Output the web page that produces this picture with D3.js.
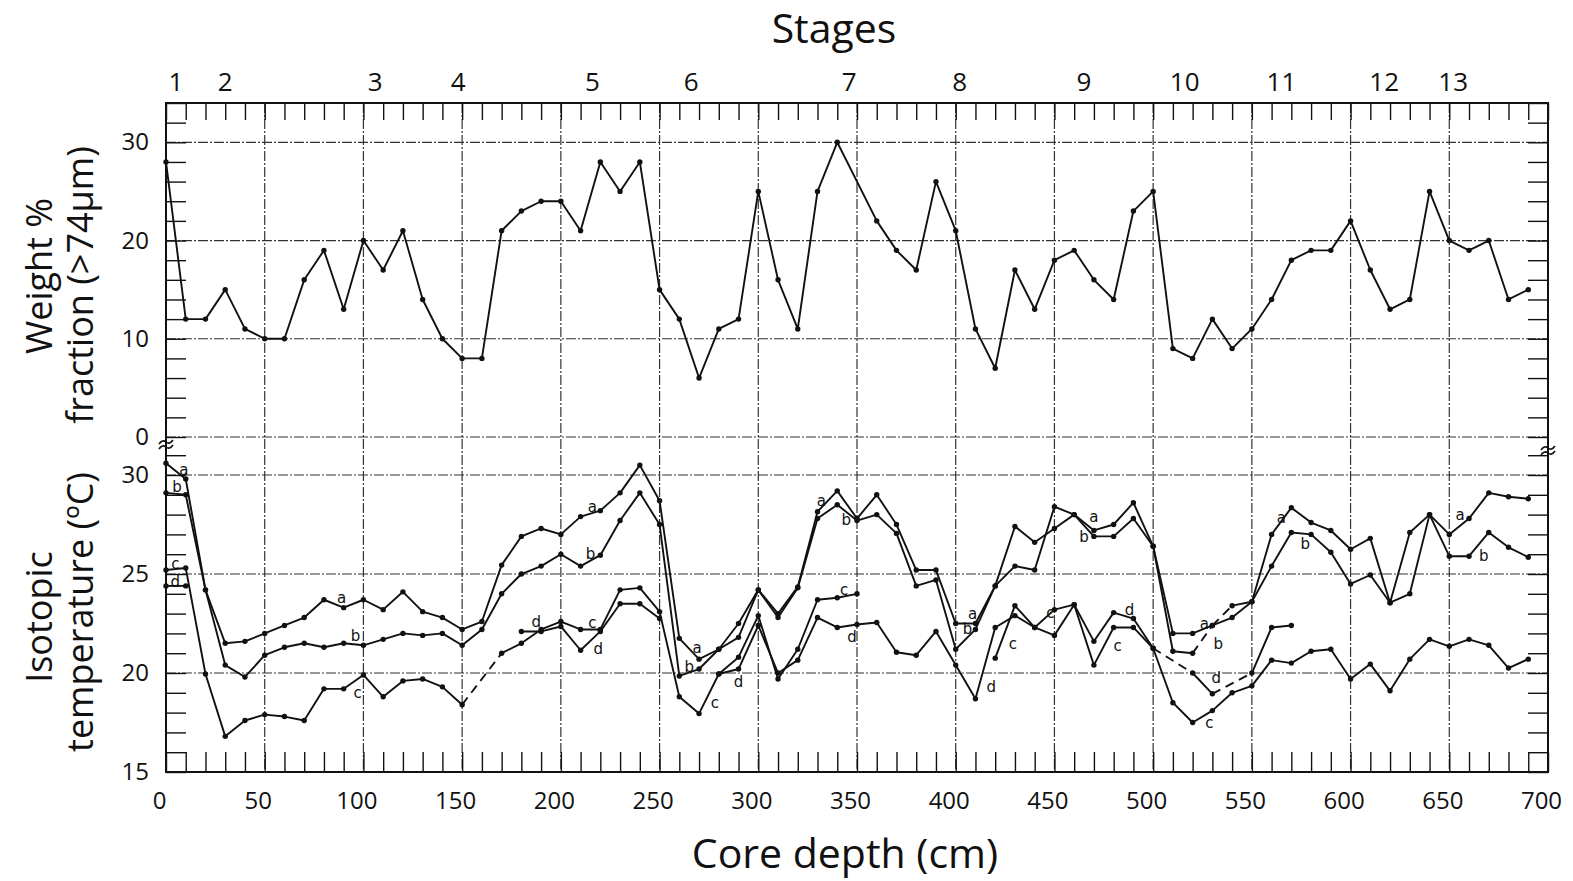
<!DOCTYPE html>
<html>
<head>
<meta charset="utf-8">
<script src="https://cdn.jsdelivr.net/npm/d3@7"></script>
<style>
body{margin:0;background:#fff;}
svg{display:block;font-family:"Open Sans",sans-serif;}
</style>
</head>
<body>
<svg id="chart" width="1573" height="881"></svg>
<script>
// weight % of the >74um fraction, read every 10 cm (no reading at 350)
const weightPct = [[0,28],[10,12],[20,12],[30,15],[40,11],[50,10],[60,10],[70,16],[80,19],[90,13],[100,20],[110,17],[120,21],[130,14],[140,10],[150,8],[160,8],[170,21],[180,23],[190,24],[200,24],[210,21],[220,28],[230,25],[240,28],[250,15],[260,12],[270,6],[280,11],[290,12],[300,25],[310,16],[320,11],[330,25],[340,30],[360,22],[370,19],[380,17],[390,26],[400,21],[410,11],[420,7],[430,17],[440,13],[450,18],[460,19],[470,16],[480,14],[490,23],[500,25],[510,9],[520,8],[530,12],[540,9],[550,11],[560,14],[570,18],[580,19],[590,19],[600,22],[610,17],[620,13],[630,14],[640,25],[650,20],[660,19],[670,20],[680,14],[690,15]]

// isotopic temperature curves a-d (null = gap)
const isoA = [[0,30.6],[10,29.8],[20,24.2],[30,21.5],[40,21.6],[50,22.0],[60,22.4],[70,22.8],[80,23.7],[90,23.3],[100,23.7],[110,23.2],[120,24.1],[130,23.1],[140,22.8],[150,22.2],[160,22.6],[170,25.45],[180,26.9],[190,27.3],[200,27.0],[210,27.9],[220,28.2],[230,29.1],[240,30.5],[250,28.7],[260,21.75],[270,20.7],[280,21.2],[290,22.5],[300,24.2],[310,23.0],[320,24.35],[330,28.15],[340,29.2],[350,27.8],[360,29.0],[370,27.5],[380,25.2],[390,25.2],[400,22.5],[410,22.5],[420,24.4],[430,27.4],[440,26.6],[450,27.3],[460,28.0],[470,27.2],[480,27.5],[490,28.6],[500,26.4],[510,22.0],[520,22.0],[530,22.4],[540,23.4],[550,23.6],[560,27.0],[570,28.35],[580,27.6],[590,27.2],[600,26.25],[610,26.8],[620,23.55],[630,27.1],[640,28.0],[650,27.0],[660,27.8],[670,29.1],[680,28.9],[690,28.8]]
const isoB = [[0,29.1],[10,29.0],[20,24.2],[30,20.4],[40,19.8],[50,20.9],[60,21.3],[70,21.5],[80,21.3],[90,21.5],[100,21.4],[110,21.7],[120,22.0],[130,21.9],[140,22.0],[150,21.4],[160,22.2],[170,24.0],[180,25.0],[190,25.4],[200,26.0],[210,25.4],[220,25.95],[230,27.7],[240,29.1],[250,27.5],[260,19.85],[270,20.2],[280,21.2],[290,21.8],[300,24.2],[310,22.8],[320,24.3],[330,27.8],[340,28.5],[350,27.7],[360,28.0],[370,27.05],[380,24.4],[390,24.7],[400,21.2],[410,22.2],[420,24.4],[430,25.4],[440,25.2],[450,28.4],[460,28.0],[470,26.9],[480,26.9],[490,27.8],[500,26.4],[510,21.1],[520,21.0],[530,22.4],[540,22.8],[550,23.6],[560,25.4],[570,27.1],[580,27.0],[590,26.1],[600,24.5],[610,24.95],[620,23.55],[630,24.0],[640,28.0],[650,25.9],[660,25.9],[670,27.1],[680,26.35],[690,25.85]]
const isoC = [[0,25.2],[10,25.3],[20,19.95],[30,16.8],[40,17.6],[50,17.9],[60,17.8],[70,17.6],[80,19.2],[90,19.2],[100,19.9],[110,18.8],[120,19.6],[130,19.7],[140,19.3],[150,18.4],[170,21.0],[180,21.5],[190,22.2],[200,22.6],[210,22.2],[220,22.2],[230,24.2],[240,24.3],[250,23.1],[260,18.8],[270,17.95],[280,19.95],[290,20.8],[300,22.9],[310,19.7],[320,21.2],[330,23.7],[340,23.8],[350,24.0],null,[420,20.75],[430,23.4],[440,22.3],[450,23.2],[460,23.45],[470,20.4],[480,22.3],[490,22.3],[500,21.25],[510,18.5],[520,17.5],[530,18.1],[540,19.0],[550,19.35],[560,20.65],[570,20.5],[580,21.1],[590,21.2],[600,19.7],[610,20.45],[620,19.1],[630,20.7],[640,21.7],[650,21.35],[660,21.7],[670,21.4],[680,20.25],[690,20.7]]
const isoD = [[0,24.4],[10,24.4],null,[180,22.1],[190,22.1],[200,22.35],[210,21.15],[220,22.1],[230,23.5],[240,23.5],[250,22.75],null,[280,19.95],[290,20.2],[300,22.4],[310,20.0],[320,20.65],[330,22.8],[340,22.3],[350,22.45],[360,22.55],[370,21.05],[380,20.9],[390,22.1],[400,20.4],[410,18.7],[420,22.3],[430,22.9],[440,22.3],[450,21.9],[460,23.45],[470,21.6],[480,23.05],[490,22.75],[500,21.25],[520,20.0],[530,18.95],[550,20.0],[560,22.3],[570,22.4]]

// segments drawn dashed: [curve, from depth, to depth]
const dashedJoins = [["c",150,170],["a",530,540],["b",520,530],["d",500,520],["d",530,550]]

const depthTicks = [0,50,100,150,200,250,300,350,400,450,500,550,600,650,700]
const weightTicks = [0,10,20,30]
const tempTicks = [15,20,25,30]
const stageNames = ["1","2","3","4","5","6","7","8","9","10","11","12","13"]
const stageDepths = [5,30,106,148,216,266,346,402,465,516,565,617,652]

// little letters that tag the curves
const curveTags = [["a",9,30.25],["b",5.6,29.4],["c",4.7,25.5],["d",4.7,24.6],
  ["a",89,23.8],["b",96,21.9],["c",97,19.0],["d",187.5,22.6],
  ["a",216,28.4],["b",215,26.0],["c",216,22.55],["d",219,21.25],
  ["a",269,21.3],["b",265,20.3],["c",278,18.5],["d",290,19.55],
  ["a",332,28.7],["b",344.5,27.75],["c",343.5,24.2],["d",347.5,21.85],
  ["a",408.5,23.0],["b",406,22.25],["d",418,19.3],["c",429,21.5],["c",448,23.05],
  ["a",470,27.9],["b",465,26.9],["c",482,21.4],["d",488,23.2],
  ["a",526,22.5],["b",533,21.5],["d",532,19.75],["c",528.5,17.5],
  ["a",565,27.85],["b",577,26.55],["a",655.5,28.0],["b",667.5,25.9]]

const svg = d3.select('#chart')
const pLeft = 166, pRight = 1548, pTop = 103, pBottom = 772, pMid = 437

const x = d3.scaleLinear().domain([0,700]).range([pLeft,pRight])
const yW = d3.scaleLinear().domain([0,34]).range([pMid,pTop])
const yT = d3.scaleLinear().domain([15,31.92]).range([pBottom,pMid])

// grid
const grid = svg.append('g')
    .attr('stroke','#333')
    .attr('stroke-width',1.2)
    .attr('stroke-dasharray','10,2,2,2')
grid.selectAll('.gv').data(depthTicks.slice(1,-1)).join('line')
    .attr('x1',d=>x(d)).attr('x2',d=>x(d)).attr('y1',pTop).attr('y2',pBottom)
grid.selectAll('.gw').data(weightTicks).join('line')
    .attr('x1',pLeft).attr('x2',pRight).attr('y1',d=>yW(d)).attr('y2',d=>yW(d))
grid.selectAll('.gt').data(tempTicks.slice(1)).join('line')
    .attr('x1',pLeft).attr('x2',pRight).attr('y1',d=>yT(d)).attr('y2',d=>yT(d))

// inward minor ticks
const tickStyle = g => {
    g.select('.domain').remove()
    g.selectAll('line').attr('stroke','#111').attr('stroke-width',1.4)
}
svg.append('g').attr('transform',`translate(0,${pTop})`)
    .call(d3.axisBottom(x).tickValues(d3.range(0,701,10)).tickSize(17).tickFormat(''))
    .call(tickStyle)
svg.append('g').attr('transform',`translate(0,${pBottom})`)
    .call(d3.axisTop(x).tickValues(d3.range(0,701,10)).tickSize(20).tickFormat(''))
    .call(tickStyle)
svg.append('g').attr('transform',`translate(${pLeft},0)`)
    .call(d3.axisRight(yW).tickValues(d3.range(0,35,2)).tickSize(20).tickFormat(''))
    .call(tickStyle)
svg.append('g').attr('transform',`translate(${pRight},0)`)
    .call(d3.axisLeft(yW).tickValues(d3.range(0,35,2)).tickSize(20).tickFormat(''))
    .call(tickStyle)
svg.append('g').attr('transform',`translate(${pLeft},0)`)
    .call(d3.axisRight(yT).tickValues(d3.range(15,32,1)).tickSize(20).tickFormat(''))
    .call(tickStyle)
svg.append('g').attr('transform',`translate(${pRight},0)`)
    .call(d3.axisLeft(yT).tickValues(d3.range(15,32,1)).tickSize(20).tickFormat(''))
    .call(tickStyle)

// frame
svg.append('rect').attr('x',pLeft).attr('y',pTop).attr('width',pRight-pLeft).attr('height',pBottom-pTop)
    .attr('fill','none').attr('stroke','#111').attr('stroke-width',2)

// break marks on the y axes
const brk = (cx, cy) => `M${cx-7},${cy+2} q3.5,-5 7,-2 t7,-2`
;[[pLeft,pMid+5],[pLeft,pMid+10],[pRight,pMid+11],[pRight,pMid+16]].forEach(p=>{
    svg.append('path').attr('d',brk(p[0],p[1])).attr('fill','none').attr('stroke','#111').attr('stroke-width',1.6)
})

// tick labels
const labelStyle = g => {
    g.select('.domain').remove()
    g.selectAll('text').attr('font-size',24).attr('fill','#111').attr('font-family','"Open Sans",sans-serif')
}
svg.append('g').attr('transform',`translate(${pLeft},0)`)
    .call(d3.axisLeft(yW).tickValues(weightTicks).tickSize(0).tickPadding(17))
    .call(labelStyle)
svg.append('g').attr('transform',`translate(${pLeft},0)`)
    .call(d3.axisLeft(yT).tickValues(tempTicks).tickSize(0).tickPadding(17))
    .call(labelStyle)
svg.append('g').attr('transform',`translate(0,${pBottom})`)
    .call(d3.axisBottom(x).tickValues(depthTicks).tickSize(0).tickPadding(20))
    .call(labelStyle)
    .call(g=>g.selectAll('text').attr('dx',-7))

// stages
svg.append('g').selectAll('text').data(stageNames).join('text')
    .attr('x',(d,i)=>x(stageDepths[i])).attr('y',91)
    .attr('text-anchor','middle').attr('font-size',26).attr('fill','#111')
    .text(d=>d)
svg.append('text').attr('x',834).attr('y',43).attr('text-anchor','middle')
    .attr('font-size',41).attr('fill','#111').text('Stages')
svg.append('text').attr('x',845).attr('y',868).attr('text-anchor','middle')
    .attr('font-size',41).attr('fill','#111').text('Core depth (cm)')

const ylab = (txt, bx, cy) => svg.append('text')
    .attr('transform',`translate(${bx},${cy}) rotate(-90)`)
    .attr('text-anchor','middle').attr('font-size',36).attr('fill','#111').text(txt)
ylab('Weight %',52,276)
ylab('fraction (>74μm)',93,285)
ylab('Isotopic',52,617)
ylab('temperature (ºC)',93,612)

// data
const line = d3.line().x(d=>x(d[0]))
const isDashed = (k,a,b) => dashedJoins.some(j=>j[0]===k && j[1]===a && j[2]===b)

function splitRuns(k, data){
    const runs = [], dashes = []
    let cur = []
    data.forEach((p,i)=>{
        const prev = data[i-1]
        if(!p){ if(cur.length) runs.push(cur); cur = []; return }
        if(prev && isDashed(k,prev[0],p[0])){ runs.push(cur); dashes.push([prev,p]); cur = [] }
        cur.push(p)
    })
    if(cur.length) runs.push(cur)
    return {runs, dashes}
}

function drawCurve(k, data, yScale){
    const g = svg.append('g')
    const lf = line.y(d=>yScale(d[1]))
    const parts = splitRuns(k, data)
    g.selectAll('.run').data(parts.runs).join('path')
        .attr('d',d=>lf(d)).attr('fill','none').attr('stroke','#111').attr('stroke-width',1.9)
        .attr('stroke-linejoin','round')
    g.selectAll('.dash').data(parts.dashes).join('path')
        .attr('d',d=>lf(d)).attr('fill','none').attr('stroke','#111').attr('stroke-width',1.9)
        .attr('stroke-dasharray','9,6')
    g.selectAll('circle').data(data.filter(p=>p)).join('circle')
        .attr('cx',d=>x(d[0])).attr('cy',d=>yScale(d[1])).attr('r',2.7).attr('fill','#111')
}

drawCurve('w', weightPct, yW)
drawCurve('a', isoA, yT)
drawCurve('b', isoB, yT)
drawCurve('c', isoC, yT)
drawCurve('d', isoD, yT)

svg.append('g').selectAll('text').data(curveTags).join('text')
    .attr('x',d=>x(d[1])).attr('y',d=>yT(d[2]))
    .attr('dy','0.35em').attr('text-anchor','middle')
    .attr('font-size',15).attr('fill','#111')
    .attr('font-family','"DejaVu Sans",sans-serif')
    .text(d=>d[0])
</script>
</body>
</html>
